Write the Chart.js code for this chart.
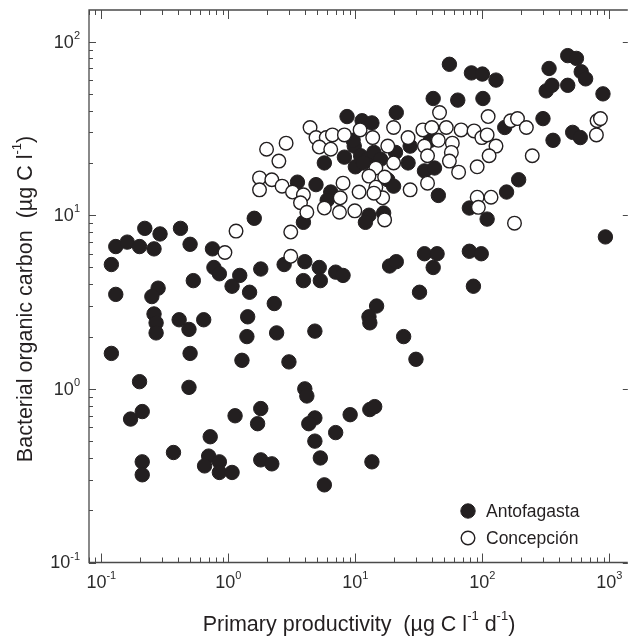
<!DOCTYPE html>
<html>
<head>
<meta charset="utf-8">
<script src="https://cdn.jsdelivr.net/npm/chart.js@4.4.1/dist/chart.umd.min.js"></script>
<style>
  body { margin: 0; background: #fff; }
  canvas { display: block; }
</style>
</head>
<body>
<canvas id="chart" width="636" height="639"></canvas>
<script>
// primary productivity (x) and bacterial organic carbon (y)
const antofagastaPP = [
  0.22, 0.29, 0.42, 0.13, 0.16, 0.20, 0.26, 0.50, 0.75, 0.12, 0.77, 0.85, 1.6, 1.8, 1.23, 1.07,
  1.47, 0.53, 0.13, 0.28, 0.25, 0.26, 0.27, 0.27, 0.41, 0.49, 0.64, 1.42, 1.40, 0.12, 0.50, 1.28,
  0.20, 0.49, 0.21, 0.17, 1.13, 1.8, 1.7, 0.72, 0.37, 0.70, 0.85, 0.65, 0.85, 1.07, 0.21, 0.21,
  1.8, 2.2, 4.0, 4.15, 4.8, 4.3, 9.1, 13, 14.2, 7.0, 4.8, 5.3, 13.5, 5.7,
  3.9, 2.75, 4.0, 5.2, 7.0, 8.0, 3.9, 5.3, 18.6, 21, 35, 44, 41, 32, 2.3, 14.7,
  12.8, 13, 2.4, 4.8, 24, 3.0, 30, 45, 155, 79, 109, 930, 79, 98, 85,
  55, 82, 100, 128, 335, 470, 550, 600, 650, 318, 353, 470, 890, 41, 64, 101,
  300, 150, 514, 590, 360, 193, 8.6, 21, 11.3, 13.5, 5.7, 8.2, 9.8, 11, 12.5, 14,
  10, 20.7, 27, 26, 35, 42, 18, 20, 3.5, 4.9, 6.4, 6.0, 12.8, 12, 16.7, 9.6, 15.8, 11.5, 39
];
const antofagastaBOC = [
  8.4, 7.8, 8.4, 6.6, 7.0, 6.6, 6.4, 6.8, 6.4, 5.2, 5.0, 4.6, 9.6, 4.9, 4.5, 3.9,
  3.6, 4.2, 3.5, 3.8, 3.4, 2.7, 2.4, 2.1, 2.5, 2.2, 2.5, 2.6, 2.0, 1.6, 1.6, 1.46,
  1.1, 1.02, 0.74, 0.67, 0.70, 0.77, 0.63, 0.53, 0.43, 0.41, 0.38, 0.36, 0.33, 0.33, 0.38, 0.32,
  0.39, 0.37, 1.0, 0.91, 0.68, 0.63, 0.71, 0.76, 0.79, 0.56, 0.50, 0.40, 0.38, 0.28,
  9.1, 5.2, 5.4, 5.0, 4.7, 4.5, 4.2, 4.2, 5.1, 5.4, 6.0, 6.0, 5.0, 3.6, 3.1, 3.0,
  2.6, 2.4, 2.1, 2.15, 2.0, 1.43, 1.48, 13, 13.6, 11, 9.5, 7.5, 6.2, 6.0, 3.9,
  74, 66, 65, 60, 70, 83, 80, 67, 61, 52, 56, 56, 50, 47, 46, 47,
  36, 32, 30, 28, 27, 16, 37, 39, 35, 34, 20, 21.6, 25, 22, 21, 23,
  19, 23, 25, 20, 18, 18.7, 16, 14.7, 15.5, 15, 13.6, 12.2, 10, 9.1, 10.3, 27, 21, 20, 27
];
const concepcionPP = [
  0.94, 1.15, 1.76, 1.76, 2.2, 2.65, 3.2, 3.1, 3.1, 2.0, 2.85, 2.5, 4.4, 4.9, 5.9, 6.6,
  5.2, 6.4, 8.2, 10.9, 13.7, 20, 18, 26, 34, 20, 14.5, 12.8, 17, 8.0, 10.7, 14.5,
  16.4, 7.6, 5.7, 7.5, 9.9, 17, 3.9, 3.7, 4.15, 14, 27, 37, 46, 111, 167, 189,
  222, 800, 850, 790, 52, 68, 86, 99, 109, 128, 113, 247, 45, 58, 57, 55,
  65, 91, 40, 35, 37, 91, 117, 93, 179
];
const concepcionBOC = [
  6.1, 8.1, 16.4, 14, 16, 14.7, 13.6, 8.0, 5.8, 24, 26, 20.5, 32, 28, 28, 29,
  24.7, 24, 29, 31, 28, 32, 25, 28, 31, 20, 18.7, 16.8, 16.6, 15.3, 13.6, 14.5,
  12.6, 12.6, 11, 10.4, 10.6, 9.4, 13.1, 11.8, 10.4, 13.4, 14, 15.3, 39, 37, 35, 36,
  32, 35, 36, 29, 32, 31, 30.6, 28, 29, 25, 22, 22, 27, 26, 23, 20.5,
  17.7, 19, 32, 25, 22, 12.7, 12.7, 11.1, 9.0
];
const xTickExps = [-1, 0, 1, 2, 3];
const yTickExps = [-1, 0, 1, 2];
const xRange = [0.08, 1396];
const yRange = [0.1, 152];

const FONT = '"Liberation Sans", Arial, sans-serif';
const INK = '#231f20';
const AXIS = '#4a4a4a';

function pairs(xs, ys) {
  return xs.map((v, i) => ({ x: v, y: ys[i] }));
}

// draws text pieces, some of them superscript
function richText(ctx, parts, x, y, size, align) {
  const supSize = Math.round(size * 0.62);
  let total = 0;
  parts.forEach(p => {
    ctx.font = (p.sup ? supSize : size) + 'px ' + FONT;
    p.w = ctx.measureText(p.t).width;
    total += p.w;
  });
  let cx = align === 'right' ? x - total : align === 'left' ? x : x - total / 2;
  ctx.textAlign = 'left';
  ctx.textBaseline = 'middle';
  parts.forEach(p => {
    ctx.font = (p.sup ? supSize : size) + 'px ' + FONT;
    ctx.fillText(p.t, cx, p.sup ? y - size * 0.38 : y);
    cx += p.w;
  });
}

function decadeMinors(lo, hi) {
  const out = [];
  for (let e = -2; e <= 3; e++) {
    for (let m = 1; m <= 9; m++) {
      const v = m * Math.pow(10, e);
      if (v >= lo * 0.999 && v <= hi) out.push({ v, major: m === 1 });
    }
  }
  return out;
}

const frame = {
  id: 'frame',
  afterDraw(chart) {
    const { ctx, chartArea: a, scales: { x, y } } = chart;
    ctx.save();
    ctx.strokeStyle = AXIS;
    ctx.lineWidth = 1.3;
    ctx.beginPath();
    ctx.moveTo(a.right, a.top);
    ctx.lineTo(a.left, a.top);
    ctx.lineTo(a.left, a.bottom);
    ctx.lineTo(a.right, a.bottom);
    ctx.stroke();

    ctx.lineWidth = 1;
    ctx.beginPath();
    decadeMinors(xRange[0], xRange[1]).forEach(t => {
      const px = Math.round(x.getPixelForValue(t.v)) + 0.5;
      const len = t.major ? 9 : 5;
      ctx.moveTo(px, a.bottom); ctx.lineTo(px, a.bottom - len);
      ctx.moveTo(px, a.top); ctx.lineTo(px, a.top + len);
    });
    decadeMinors(yRange[0], yRange[1]).forEach(t => {
      const py = Math.round(y.getPixelForValue(t.v)) + 0.5;
      const len = t.major ? 7 : 4;
      ctx.moveTo(a.left, py); ctx.lineTo(a.left + len, py);
      if (t.major) { ctx.moveTo(a.right, py); ctx.lineTo(a.right - 5, py); }
    });
    ctx.stroke();

    ctx.fillStyle = '#2b2b2b';
    xTickExps.forEach(e => {
      const px = x.getPixelForValue(Math.pow(10, e));
      richText(ctx, [{ t: '10' }, { t: String(e), sup: true }], px, 583, 18, 'center');
    });
    yTickExps.forEach(e => {
      const py = y.getPixelForValue(Math.pow(10, e));
      richText(ctx, [{ t: '10' }, { t: String(e), sup: true }], 80, py + 1, 18, 'right');
    });

    ctx.fillStyle = INK;
    richText(ctx, [
      { t: 'Primary productivity  (\u00b5g C l' }, { t: '-1', sup: true },
      { t: ' d' }, { t: '-1', sup: true }, { t: ')' }
    ], 359, 625, 21.5, 'center');

    ctx.save();
    ctx.translate(26, 299);
    ctx.rotate(-Math.PI / 2);
    richText(ctx, [
      { t: 'Bacterial organic carbon  (\u00b5g C l' }, { t: '-1', sup: true }, { t: ')' }
    ], 0, 0, 21.5, 'center');
    ctx.restore();

    // legend
    const lx = 468;
    chart.data.datasets.forEach((ds, i) => {
      const ly = 511 + i * 27;
      ctx.beginPath();
      ctx.arc(lx, ly, ds.pointRadius, 0, Math.PI * 2);
      ctx.fillStyle = ds.backgroundColor;
      ctx.fill();
      ctx.lineWidth = ds.borderWidth;
      ctx.strokeStyle = ds.borderColor;
      ctx.stroke();
      ctx.fillStyle = INK;
      richText(ctx, [{ t: ds.label }], lx + 18, ly + 1, 17.5, 'left');
    });
    ctx.restore();
  }
};

new Chart(document.getElementById('chart'), {
  type: 'scatter',
  data: {
    datasets: [
      {
        label: 'Antofagasta',
        data: pairs(antofagastaPP, antofagastaBOC),
        backgroundColor: INK,
        borderColor: INK,
        borderWidth: 1,
        pointRadius: 7.2,
        order: 2
      },
      {
        label: 'Concepci\u00f3n',
        data: pairs(concepcionPP, concepcionBOC),
        backgroundColor: '#ffffff',
        borderColor: INK,
        borderWidth: 1.4,
        pointRadius: 6.8,
        order: 1
      }
    ]
  },
  options: {
    responsive: false,
    animation: false,
    devicePixelRatio: 1,
    layout: { padding: { left: 89, top: 10, right: 0, bottom: 76.5 } },
    plugins: { legend: { display: false }, tooltip: { enabled: false } },
    scales: {
      x: { type: 'logarithmic', min: xRange[0], max: xRange[1], display: false },
      y: { type: 'logarithmic', min: yRange[0], max: yRange[1], display: false }
    }
  },
  plugins: [frame]
});
</script>
</body>
</html>
